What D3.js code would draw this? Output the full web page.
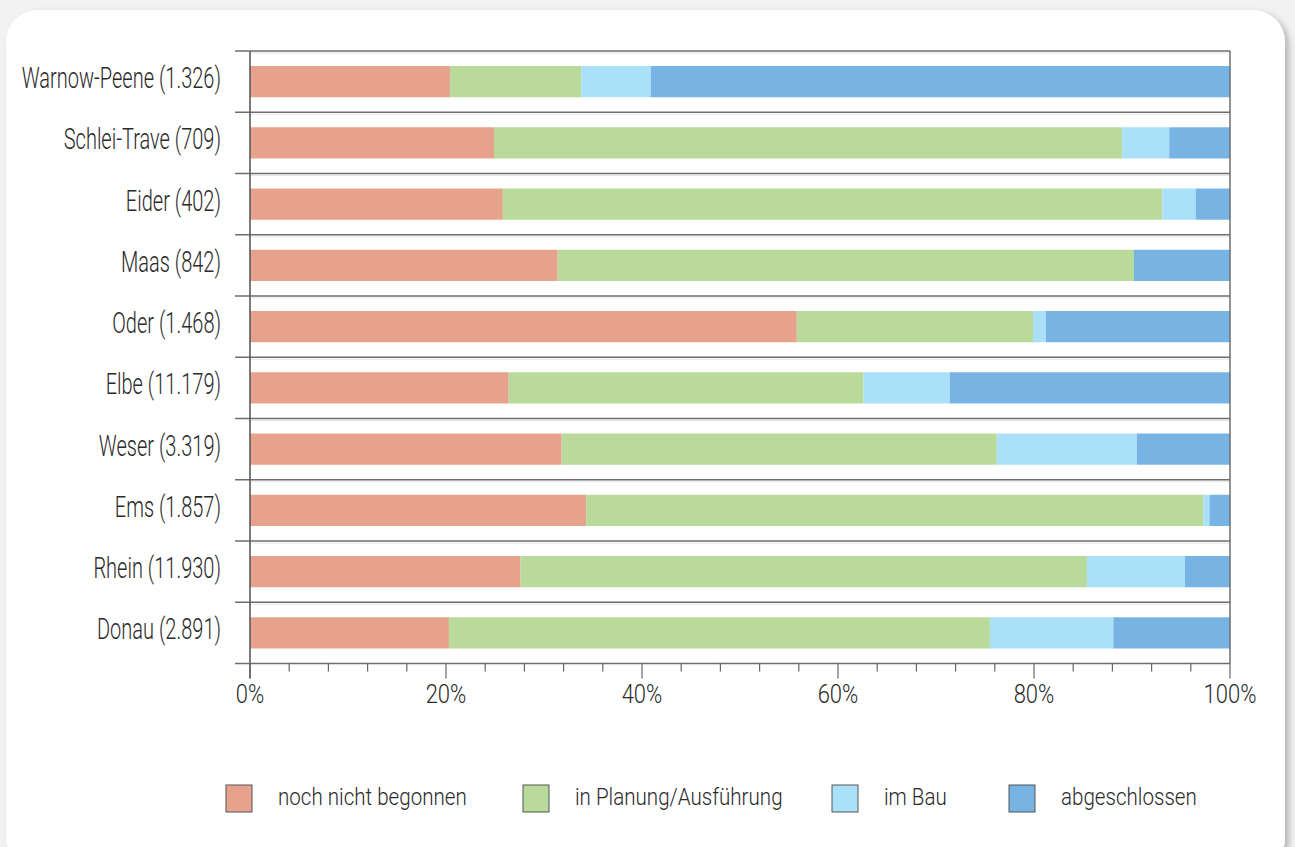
<!DOCTYPE html>
<html><head><meta charset="utf-8">
<script src="https://cdn.jsdelivr.net/npm/d3@7"></script>
<style>
html,body{margin:0;padding:0;background:#f2f2f2;}
svg{display:block;font-family:Roboto,"Liberation Sans",sans-serif;font-weight:300;}
</style></head>
<body><svg id="c" width="1295" height="847"></svg>
<script>
const categories = ["Warnow-Peene (1.326)","Schlei-Trave (709)","Eider (402)","Maas (842)","Oder (1.468)","Elbe (11.179)","Weser (3.319)","Ems (1.857)","Rhein (11.930)","Donau (2.891)"];
const seriesNames = ["noch nicht begonnen","in Planung/Ausführung","im Bau","abgeschlossen"];
const nochNichtBegonnen = [20.4, 24.9, 25.8, 31.4, 55.8, 26.4, 31.8, 34.3, 27.6, 20.3];
const inPlanung        = [13.4, 64.1, 67.3, 58.8, 24.1, 36.2, 44.4, 63.0, 57.8, 55.2];
const imBau            = [ 7.1,  4.8,  3.4,  0.0,  1.3,  8.8, 14.3,  0.6, 10.0, 12.6];
const abgeschlossen    = [59.1,  6.2,  3.5,  9.8, 18.8, 28.6,  9.5,  2.1,  4.6, 11.9];
const tickValues = [0,20,40,60,80,100];
const tickLabels = ["0%","20%","40%","60%","80%","100%"];
const colors = ["#e6a28c","#b9da9b","#aae1f9","#78b4e3"];

const svg = d3.select("#c");
const defs = svg.append("defs");
const f = defs.append("filter").attr("id","sh").attr("x","-5%").attr("y","-5%").attr("width","110%").attr("height","110%");
f.append("feDropShadow").attr("dx",4).attr("dy",3).attr("stdDeviation",3).attr("flood-color","#000").attr("flood-opacity",0.25);
svg.append("rect").attr("x",6).attr("y",10).attr("width",1279).attr("height",860).attr("rx",32)
  .attr("fill","#fff").attr("filter","url(#sh)");

const x0 = 250, x1 = 1230, y0 = 51, y1 = 663.5;
const x = d3.scaleLinear().domain([0,100]).range([x0,x1]);
const y = d3.scaleBand().domain(categories).range([y0,y1]).paddingInner(0.49).paddingOuter(0.245);
const step = y.step();

const stackData = categories.map((c,i)=>({cat:c,
  [seriesNames[0]]:nochNichtBegonnen[i],[seriesNames[1]]:inPlanung[i],[seriesNames[2]]:imBau[i],[seriesNames[3]]:abgeschlossen[i]}));
const stacked = d3.stack().keys(seriesNames)(stackData);

const g = svg.append("g");
categories.forEach((c)=>{
  const yy = y(c) - (step - y.bandwidth())/2;
  g.append("line").attr("x1",235).attr("x2",x1).attr("y1",yy).attr("y2",yy).attr("stroke","#6e6e6e").attr("stroke-width",1.3);
  g.append("line").attr("x1",x0).attr("x2",x1).attr("y1",yy+2).attr("y2",yy+2).attr("stroke","#e6e6e6").attr("stroke-width",1);
});

svg.append("g").selectAll("g").data(stacked).join("g").attr("fill",(d,i)=>colors[i])
  .selectAll("rect").data(d=>d).join("rect")
  .attr("x",d=>x(d[0])).attr("width",d=>Math.max(0,x(d[1])-x(d[0])))
  .attr("y",d=>y(d.data.cat)).attr("height",y.bandwidth());

svg.append("line").attr("x1",x1).attr("x2",x1).attr("y1",y0).attr("y2",y1).attr("stroke","#6e6e6e").attr("stroke-width",1.5);
svg.append("line").attr("x1",x0).attr("x2",x0).attr("y1",y0).attr("y2",y1+15).attr("stroke","#5a5a5a").attr("stroke-width",1.6);

const ax = svg.append("g").attr("transform",`translate(0,${y1})`);
ax.append("line").attr("x1",235).attr("x2",x1).attr("stroke","#6e6e6e").attr("stroke-width",1.5);
const minor = d3.range(0,101,4);
ax.selectAll(".mt").data(minor).join("line").attr("x1",d=>x(d)).attr("x2",d=>x(d)).attr("y1",0)
  .attr("y2",d=>tickValues.includes(d)?15:8).attr("stroke","#666").attr("stroke-width",1.2);
ax.selectAll(".tl").data(tickValues).join("text")
  .attr("transform",d=>`translate(${x(d)},39) scale(0.88,1)`)
  .attr("text-anchor","middle").attr("font-size",25).attr("fill","#2a2a2a").text((d,i)=>tickLabels[i]);

svg.append("g").selectAll("text").data(categories).join("text")
  .attr("transform",d=>`translate(221,${y(d)+y.bandwidth()/2+6.5}) scale(0.69,1)`)
  .attr("text-anchor","end").attr("font-size",29).attr("fill","#2a2a2a").text(d=>d);

const legX = [226,523,832,1009];
const lg = svg.append("g").selectAll("g").data(seriesNames).join("g").attr("transform",(d,i)=>`translate(${legX[i]},785)`);
lg.append("rect").attr("width",26).attr("height",27).attr("fill",(d,i)=>colors[i]).attr("stroke","#555").attr("stroke-width",1);
lg.append("text").attr("transform","translate(52,20) scale(0.84,1)").attr("font-size",24.5).attr("fill","#2a2a2a").text(d=>d);
</script></body></html>
